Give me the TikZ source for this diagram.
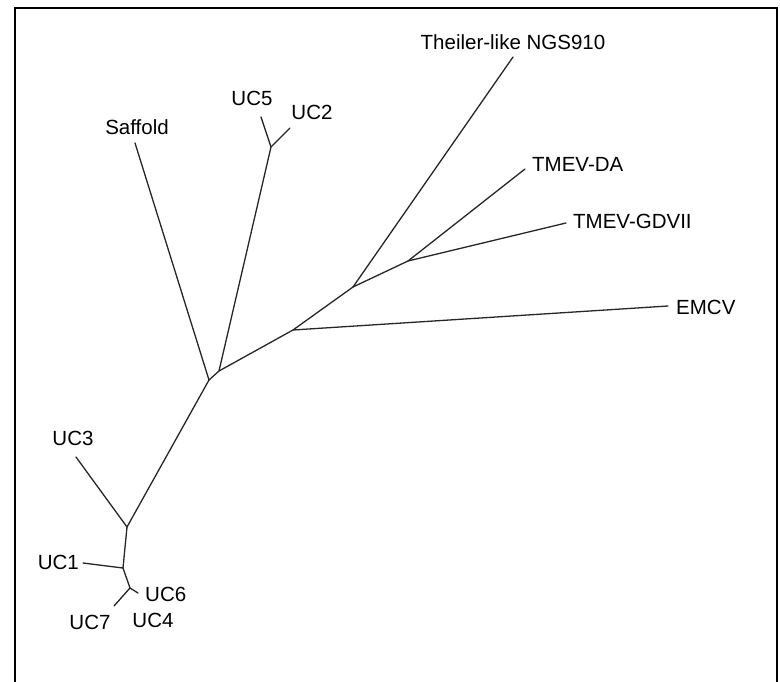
\documentclass[tikz,border=0pt]{standalone}
\usepackage{fontspec}
\setmainfont{Liberation Sans}
\begin{document}
\begin{tikzpicture}[
			x=1pt, y=-1pt,
			% Define styles for branches and tip labels
			every node/.style={font=\fontsize{20.5}{22}\selectfont, inner sep=0pt},
			branch/.style={draw, line width=1.3pt, line cap=round, color=black!85},
			frame/.style={draw, line width=2.6pt}
		]
		\useasboundingbox (0,0) rectangle (780,682);

		% Frame (open at the bottom)
		\draw[frame] (15,690) -- (15,8) -- (777,8) -- (777,690);

		% Internal nodes
		\coordinate (root) at (209,380);
		\coordinate (n1) at (219,371);
		\coordinate (n2) at (271,147);
		\coordinate (n3) at (293,330);
		\coordinate (n4) at (353,287);
		\coordinate (n5) at (408,261);
		\coordinate (n6) at (127,527);
		\coordinate (n7) at (123,568);
		\coordinate (n8) at (130,588);

		% Tips
		\coordinate (saffold) at (135,143);
		\coordinate (uc5) at (261,117);
		\coordinate (uc2) at (290,128);
		\coordinate (emcv) at (668,306);
		\coordinate (ngs) at (513,57);
		\coordinate (da) at (525,169);
		\coordinate (gdvii) at (566,223);
		\coordinate (uc3) at (76,457);
		\coordinate (uc1) at (83,563);
		\coordinate (uc6) at (138,593);
		\coordinate (uc7) at (114,606);

		% Tip labels
		\node (lsaffold) at (137,127) {Saffold};
		\node (luc5) at (252,98) {UC5};
		\node (luc2) at (312,112) {UC2};
		\node[anchor=west] (lemcv) at (676,307) {EMCV};
		\node (lngs) at (513,42) {Theiler-like NGS910};
		\node[anchor=west] (lda) at (532,164) {TMEV-DA};
		\node[anchor=west] (lgdvii) at (573,221) {TMEV-GDVII};
		\node (luc3) at (73,438) {UC3};
		\node[anchor=east] (luc1) at (79,562) {UC1};
		\node[anchor=west] (luc6) at (145,594) {UC6};
		\node (luc7) at (90,622) {UC7};
		\node (luc4) at (153,620) {UC4};

		% Branches
		\draw[branch] (root) -- (saffold);
		\draw[branch] (root) -- (n1) -- (n2) -- (uc5);
		\draw[branch] (n2) -- (uc2);
		\draw[branch] (n1) -- (n3) -- (emcv);
		\draw[branch] (n3) -- (n4) -- (ngs);
		\draw[branch] (n4) -- (n5) -- (da);
		\draw[branch] (n5) -- (gdvii);
		\draw[branch] (root) -- (n6) -- (uc3);
		\draw[branch] (n6) -- (n7) -- (uc1);
		\draw[branch] (n7) -- (n8) -- (uc6);
		\draw[branch] (n8) -- (uc7);
	\end{tikzpicture}
\end{document}
